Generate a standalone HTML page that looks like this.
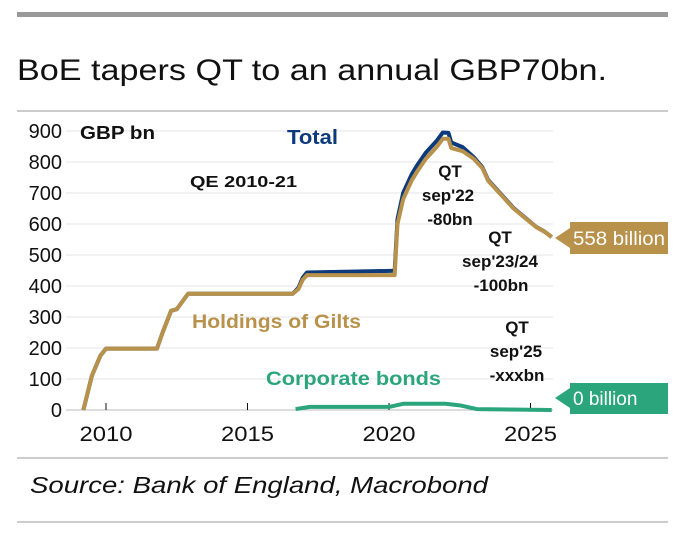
<!DOCTYPE html>
<html><head><meta charset="utf-8"><style>
body{margin:0;background:#fff;width:686px;height:533px;overflow:hidden;font-family:"Liberation Sans",sans-serif}
</style></head><body>
<svg width="686" height="533" font-family="Liberation Sans, sans-serif">
<rect x="17" y="12" width="651" height="5" fill="#999"/>
<text x="17" y="80" font-size="30" fill="#111" textLength="590" lengthAdjust="spacingAndGlyphs">BoE tapers QT to an annual GBP70bn.</text>
<line x1="17" y1="111" x2="668" y2="111" stroke="#999"/>
<g id="grid"></g><g id="axes"></g><g id="series"></g>
<text x="80" y="139" font-size="18" font-weight="bold" fill="#111" textLength="75" lengthAdjust="spacingAndGlyphs">GBP bn</text>
<text x="287" y="144" font-size="20" font-weight="bold" fill="#0d3a7a" textLength="51" lengthAdjust="spacingAndGlyphs">Total</text>
<text x="190" y="187" font-size="16" font-weight="bold" fill="#111" textLength="107" lengthAdjust="spacingAndGlyphs">QE 2010-21</text>
<text x="192" y="328" font-size="19" font-weight="bold" fill="#b8914a" textLength="169" lengthAdjust="spacingAndGlyphs">Holdings of Gilts</text>
<text x="266" y="385" font-size="19" font-weight="bold" fill="#2aa57c" textLength="175" lengthAdjust="spacingAndGlyphs">Corporate bonds</text>
<g font-size="17" font-weight="bold" fill="#111" text-anchor="middle">
<text x="450" y="177">QT</text><text x="448" y="201">sep'22</text><text x="450" y="225">-80bn</text>
<text x="500" y="243">QT</text><text x="500" y="267">sep'23/24</text><text x="501" y="291">-100bn</text>
<text x="517" y="333">QT</text><text x="516" y="357">sep'25</text><text x="517" y="381">-xxxbn</text>
</g>
<g><polygon points="555,238 570,228 570,248" fill="#b8914a"/><rect x="570" y="222" width="98" height="32" fill="#b8914a"/><text x="573" y="245" font-size="19" fill="#fff" textLength="92" lengthAdjust="spacingAndGlyphs">558 billion</text></g>
<g><polygon points="555,398 570,388 570,408" fill="#2aa57c"/><rect x="570" y="383" width="98" height="31" fill="#2aa57c"/><text x="573" y="405" font-size="19" fill="#fff">0 billion</text></g>
<line x1="17" y1="458" x2="668" y2="458" stroke="#999"/>
<text x="30" y="493" font-size="23" font-style="italic" fill="#111" textLength="458" lengthAdjust="spacingAndGlyphs">Source: Bank of England, Macrobond</text>
<line x1="17" y1="522" x2="668" y2="522" stroke="#999"/>
</svg>
<script>
const yTicks=[0,100,200,300,400,500,600,700,800,900];
const xTicks=[2010,2015,2020,2025];
const giltDates=[2009.2,2009.5,2009.8,2010.0,2011.8,2012.0,2012.3,2012.5,2012.9,2016.6,2016.8,2016.95,2017.1,2020.2,2020.3,2020.5,2020.8,2021.0,2021.3,2021.7,2021.9,2022.1,2022.2,2022.6,2023.0,2023.3,2023.5,2023.8,2024.1,2024.4,2024.8,2025.2,2025.5,2025.75];
const giltValues=[0,110,175,198,198,250,320,325,375,375,390,420,435,435,600,680,740,770,810,850,875,875,845,835,810,780,740,710,680,650,620,590,575,558];
const corpDates=[2016.7,2017.2,2020.0,2020.5,2022.0,2022.5,2023.1,2025.75];
const corpValues=[3,10,10,20,20,15,3,0];
const X=d=>106+(d-2010)*28.3, Y=v=>410-v*0.31;
const ns="http://www.w3.org/2000/svg";
function mk(t,p,a){const e=document.createElementNS(ns,t);for(const k in a)e.setAttribute(k,a[k]);p.appendChild(e);return e;}
const g=document.getElementById('grid'),ax=document.getElementById('axes'),s=document.getElementById('series');
yTicks.forEach(v=>{
 const l=mk('line',g,{x1:66,x2:553,y1:Y(v),y2:Y(v),stroke:v?'#e4e4e4':'#bbb'});
 
 
 const t=mk('text',ax,{x:62,y:Y(v)+7,'font-size':20,'text-anchor':'end',fill:'#111'});t.textContent=v;
 
 
});
xTicks.forEach(d=>{
 const l=mk('line',ax,{x1:X(d),x2:X(d),y1:403,y2:410,stroke:'#111'});
 
 
 const t=mk('text',ax,{x:X(d),y:441,'font-size':21,'text-anchor':'middle',fill:'#111',textLength:53,lengthAdjust:'spacingAndGlyphs'});t.textContent=d;
 
 
});
function corpAt(d){if(d<corpDates[0])return 0;for(let i=1;i<corpDates.length;i++){if(d<=corpDates[i]){const f=(d-corpDates[i-1])/(corpDates[i]-corpDates[i-1]);return corpValues[i-1]+f*(corpValues[i]-corpValues[i-1]);}}return 0;}
const totPts=giltDates.map((d,i)=>X(d)+','+Y(giltValues[i]+corpAt(d))).join(' ');
const tl=mk('polyline',s,{points:totPts,fill:'none',stroke:'#0d3a7a','stroke-width':4,'stroke-linejoin':'round'});


const gl=mk('polyline',s,{points:giltDates.map((d,i)=>X(d)+','+Y(giltValues[i])).join(' '),fill:'none',stroke:'#b8914a','stroke-width':4,'stroke-linejoin':'round'});


const cl=mk('polyline',s,{points:corpDates.map((d,i)=>X(d)+','+Y(corpValues[i])).join(' '),fill:'none',stroke:'#2aa57c','stroke-width':4,'stroke-linejoin':'round'});


</script>
</body></html>
